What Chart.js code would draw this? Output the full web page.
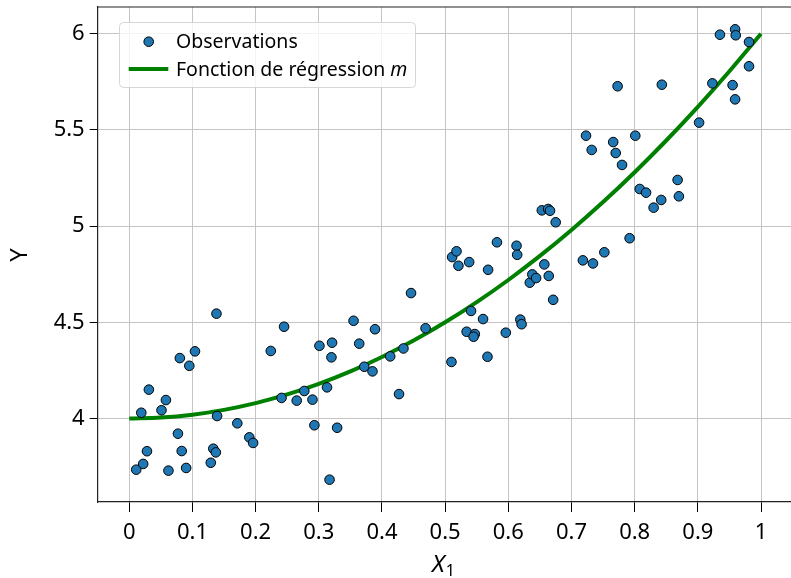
<!DOCTYPE html>
<html lang="fr">
<head>
<meta charset="UTF-8">
<title>Régression</title>
<style>
    body {
        margin: 0;
        padding: 0;
        background: #fff;
        overflow: hidden;
    }
    #wrap {
        width: 800px;
        height: 578px;
    }
</style>
<script src="https://cdn.jsdelivr.net/npm/chart.js"></script>
</head>
<body>
<div id="wrap"><canvas id="chart" width="800" height="578"></canvas></div>
<script>
    // Observations (X1, Y)
    const obsX = [
        0.011, 0.022, 0.028, 0.019, 0.031, 0.051, 0.058, 0.062, 0.077, 0.080,
        0.083, 0.090, 0.095, 0.104, 0.129, 0.133, 0.137, 0.138, 0.139, 0.171,
        0.190, 0.196, 0.224, 0.245, 0.241, 0.265, 0.277, 0.290, 0.293, 0.301,
        0.313, 0.317, 0.321, 0.320, 0.329, 0.355, 0.364, 0.372, 0.385, 0.389,
        0.413, 0.427, 0.434, 0.446, 0.469, 0.510, 0.511, 0.518, 0.521, 0.538,
        0.534, 0.541, 0.547, 0.545, 0.560, 0.567, 0.568, 0.582, 0.596, 0.613,
        0.614, 0.619, 0.621, 0.634, 0.638, 0.644, 0.657, 0.664, 0.671, 0.653,
        0.663, 0.666, 0.675, 0.718, 0.734, 0.723, 0.732, 0.752, 0.766, 0.770,
        0.773, 0.780, 0.792, 0.801, 0.808, 0.818, 0.830, 0.842, 0.843, 0.868,
        0.870, 0.902, 0.923, 0.935, 0.955, 0.959, 0.960, 0.959, 0.981, 0.981
    ];
    const obsY = [
        3.734, 3.764, 3.830, 4.030, 4.150, 4.043, 4.096, 3.729, 3.921, 4.314,
        3.831, 3.743, 4.274, 4.349, 3.770, 3.843, 3.824, 4.545, 4.013, 3.975,
        3.902, 3.873, 4.351, 4.477, 4.107, 4.093, 4.143, 4.098, 3.965, 4.378,
        4.162, 3.682, 4.394, 4.318, 3.952, 4.508, 4.389, 4.269, 4.245, 4.464,
        4.323, 4.127, 4.364, 4.652, 4.469, 4.294, 4.839, 4.869, 4.794, 4.813,
        4.451, 4.559, 4.439, 4.425, 4.517, 4.321, 4.773, 4.916, 4.446, 4.898,
        4.851, 4.514, 4.490, 4.706, 4.749, 4.730, 4.801, 4.741, 4.617, 5.082,
        5.089, 5.080, 5.020, 4.822, 4.806, 5.470, 5.396, 4.864, 5.437, 5.380,
        5.727, 5.318, 4.937, 5.470, 5.193, 5.174, 5.096, 5.136, 5.735, 5.240,
        5.155, 5.538, 5.742, 5.995, 5.733, 6.023, 5.992, 5.659, 5.957, 5.831
    ];

    // regression curve m, sampled along X1
    const curveX = [0, 0.05, 0.1, 0.15, 0.2, 0.25, 0.3, 0.35, 0.4, 0.45, 0.5,
                    0.55, 0.6, 0.65, 0.7, 0.75, 0.8, 0.85, 0.9, 0.95, 1];
    const curveY = [4, 4.005, 4.02, 4.045, 4.08, 4.125, 4.18, 4.245, 4.32, 4.405, 4.5,
                    4.605, 4.72, 4.845, 4.98, 5.125, 5.28, 5.445, 5.62, 5.805, 6];

    const xTicks = [0, 0.1, 0.2, 0.3, 0.4, 0.5, 0.6, 0.7, 0.8, 0.9, 1];
    const xTickLabels = ['0', '0.1', '0.2', '0.3', '0.4', '0.5', '0.6', '0.7', '0.8', '0.9', '1'];
    const yTicks = [4, 4.5, 5, 5.5, 6];
    const yTickLabels = ['4', '4.5', '5', '5.5', '6'];

    const FONT = '"Noto Sans", "DejaVu Sans", sans-serif';

    // draws the frame top line, axis titles and the legend box
    const extras = {
        id: 'extras',
        afterDraw(chart) {
            const c = chart.ctx;
            const a = chart.chartArea;
            c.save();

            // top spine
            c.strokeStyle = '#222';
            c.lineWidth = 1.2;
            c.beginPath();
            c.moveTo(a.left, a.top);
            c.lineTo(a.right, a.top);
            c.stroke();

            // axis titles
            c.fillStyle = '#000';
            c.textBaseline = 'middle';
            c.textAlign = 'center';
            c.save();
            c.translate(20, 255);
            c.rotate(-Math.PI / 2);
            c.font = '24px ' + FONT;
            c.fillText('Y', 0, 0);
            c.restore();

            c.textAlign = 'left';
            c.font = 'italic 24px ' + FONT;
            c.fillText('X', 432, 565);
            const wx = c.measureText('X').width;
            c.font = '16px ' + FONT;
            c.fillText('1', 432 + wx + 1, 571);

            // legend
            const ds = chart.data.datasets;
            const bx = 119.5, by = 22.5, bw = 296, bh = 65;
            c.beginPath();
            c.roundRect(bx, by, bw, bh, 4);
            c.fillStyle = 'rgba(255,255,255,0.8)';
            c.fill();
            c.strokeStyle = '#d6d6d6';
            c.lineWidth = 1;
            c.stroke();

            c.beginPath();
            c.arc(148.7, 41.7, 4.8, 0, Math.PI * 2);
            c.fillStyle = ds[0].backgroundColor;
            c.fill();
            c.strokeStyle = '#000';
            c.lineWidth = 1;
            c.stroke();

            c.beginPath();
            c.moveTo(128.7, 69);
            c.lineTo(168.3, 69);
            c.strokeStyle = ds[1].borderColor;
            c.lineWidth = 4;
            c.stroke();

            c.fillStyle = '#000';
            c.font = '19.5px ' + FONT;
            c.fillText(ds[0].label, 176, 42);
            c.fillText(ds[1].label, 176, 70);
            const w2 = c.measureText(ds[1].label).width;
            c.font = 'italic 19.5px ' + FONT;
            c.fillText('m', 176 + w2, 70);

            c.restore();
        }
    };

    const ctx = document.getElementById('chart').getContext('2d');
    const chart = new Chart(ctx, {
        data: {
            datasets: [
                {
                    type: 'scatter',
                    label: 'Observations',
                    data: obsX.map((x, i) => ({ x: x, y: obsY[i] })),
                    backgroundColor: '#1f77b4',
                    borderColor: '#000',
                    borderWidth: 1,
                    pointRadius: 4.8,
                    order: 0
                },
                {
                    type: 'line',
                    label: 'Fonction de régression ',
                    data: curveX.map((x, i) => ({ x: x, y: curveY[i] })),
                    borderColor: '#008000',
                    borderWidth: 4,
                    pointRadius: 0,
                    fill: false,
                    cubicInterpolationMode: 'monotone',
                    order: 1
                }
            ]
        },
        options: {
            responsive: false,
            animation: false,
            devicePixelRatio: 1,
            layout: { padding: { top: 7, right: 7.4, bottom: 0, left: 0 } },
            plugins: {
                legend: { display: false },
                tooltip: { enabled: false }
            },
            scales: {
                x: {
                    type: 'linear',
                    min: -0.05,
                    max: 1.05,
                    afterBuildTicks: s => { s.ticks = xTicks.map(v => ({ value: v })); },
                    afterFit: s => { s.height = 76; s.paddingLeft = 0; s.paddingRight = 0; },
                    ticks: {
                        callback: (v) => xTickLabels[xTicks.indexOf(v)],
                        color: '#000',
                        font: { family: FONT, size: 22 },
                        padding: 8,
                        maxRotation: 0
                    },
                    grid: { color: '#c4c4c4', lineWidth: 1, tickLength: 10, tickColor: '#000' },
                    border: { color: '#222', width: 1.2 }
                },
                y: {
                    type: 'linear',
                    min: 3.566,
                    max: 6.139,
                    afterBuildTicks: s => { s.ticks = yTicks.map(v => ({ value: v })); },
                    afterFit: s => { s.width = 97.7; s.paddingTop = 0; s.paddingBottom = 0; },
                    ticks: {
                        callback: (v) => yTickLabels[yTicks.indexOf(v)],
                        color: '#000',
                        font: { family: FONT, size: 22 },
                        padding: 5
                    },
                    grid: { color: '#c4c4c4', lineWidth: 1, tickLength: 8, tickColor: '#000' },
                    border: { color: '#222', width: 1.2 }
                }
            }
        },
        plugins: [extras]
    });
</script>
</body>
</html>
